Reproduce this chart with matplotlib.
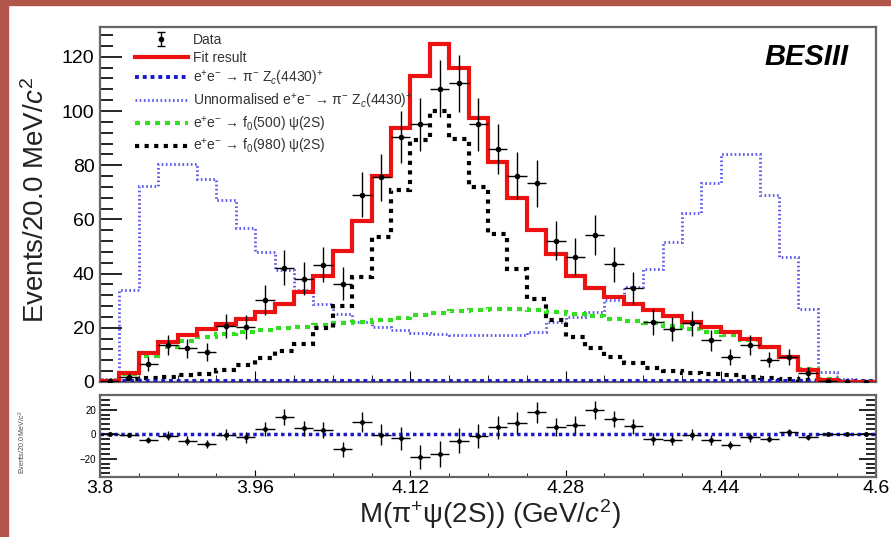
import numpy as np
import matplotlib
matplotlib.use("Agg")
import matplotlib.pyplot as plt
from matplotlib.patches import Rectangle
from matplotlib.ticker import MultipleLocator, FixedLocator, FormatStrFormatter

plt.rcParams['font.family'] = ['Liberation Sans', 'DejaVu Sans']
plt.rcParams['mathtext.fontset'] = 'custom'
plt.rcParams['mathtext.rm'] = 'Liberation Sans'
plt.rcParams['mathtext.it'] = 'Liberation Sans:italic'
plt.rcParams['mathtext.bf'] = 'Liberation Sans:bold'

# 40 bins of 20 MeV between 3.8 and 4.6 GeV
x_min, x_max, n_bins = 3.8, 4.6, 40
x_ticks = [3.8, 3.96, 4.12, 4.28, 4.44, 4.6]

data = [0.2, 2.0, 6.5, 13.6, 12.4, 11.1, 20.7, 20.3, 30.4, 42.2,
        38.1, 43.3, 36.3, 69.1, 75.5, 90.4, 95.1, 108.3, 110.2, 95.1,
        86.1, 76.1, 73.3, 52.2, 46.3, 54.4, 43.4, 34.8, 22.2, 19.4,
        21.6, 15.4, 9.3, 13.6, 8.3, 9.3, 3.5, 0.5, 0.0, 0.0]

fit = [0.3, 3.3, 10.8, 14.8, 17.3, 19.5, 21.3, 23.4, 25.9, 28.9,
       33.2, 39.3, 48.5, 59.5, 76.1, 93.9, 113.0, 124.9, 115.9, 97.5,
       81.0, 68.0, 56.1, 47.1, 39.3, 34.8, 31.4, 28.7, 26.5, 24.3,
       22.2, 20.3, 18.3, 15.8, 13.0, 9.3, 4.4, 0.6, 0.1, 0.0]

zc_norm = [0.3, 0.3, 0.3, 0.3, 0.3, 0.3, 0.3, 0.3, 0.3, 0.3,
           0.3, 0.3, 0.3, 0.3, 0.3, 0.3, 0.3, 0.3, 0.3, 0.3,
           0.3, 0.3, 0.3, 0.3, 0.3, 0.3, 0.3, 0.3, 0.3, 0.3,
           0.3, 0.3, 0.3, 0.3, 0.3, 0.3, 0.3, 0.3, 0.3, 0.3]

zc_unnorm = [1.0, 33.8, 72.4, 80.5, 80.5, 75.0, 67.0, 57.0, 47.9, 41.2,
             33.8, 28.9, 25.2, 22.2, 20.3, 19.1, 18.1, 17.6, 17.3, 17.3,
             17.3, 17.5, 18.5, 22.0, 24.0, 25.9, 30.1, 35.0, 41.8, 51.6,
             62.3, 73.6, 84.0, 84.0, 69.0, 46.0, 27.0, 3.8, 1.0, 0.5]

f0_500 = [0.5, 3.0, 9.5, 13.0, 15.0, 16.5, 17.6, 18.4, 19.1, 19.8,
          20.4, 21.0, 21.6, 22.3, 23.0, 23.8, 24.6, 25.4, 26.1, 26.6,
          26.9, 26.8, 26.4, 25.8, 25.0, 24.2, 23.4, 22.6, 21.7, 20.7,
          19.7, 18.6, 17.3, 15.4, 12.8, 9.3, 4.8, 1.0, 0.1, 0.0]

f0_980 = [0.3, 1.2, 1.6, 2.0, 2.5, 3.1, 4.3, 6.2, 9.0, 11.5,
          14.2, 20.0, 28.0, 38.7, 53.4, 70.8, 89.2, 100.0, 89.6, 71.8,
          54.7, 41.8, 30.8, 22.8, 16.7, 12.4, 9.3, 6.9, 5.3, 4.2,
          3.4, 2.9, 2.4, 1.9, 1.5, 1.0, 0.7, 0.3, 0.1, 0.0]

resid = [0.0, -1.0, -4.6, -1.4, -5.2, -7.9, -0.5, -2.5, 4.4, 13.7,
         4.9, 3.6, -12.3, 9.9, -0.5, -3.3, -18.4, -16.2, -5.2, -1.4,
         5.5, 9.0, 17.8, 5.8, 7.7, 20.0, 12.6, 6.3, -3.8, -4.7,
         -0.5, -4.7, -8.8, -2.7, -3.8, 1.4, -2.7, 0.0, 0.0, 0.0]

edges = np.linspace(x_min, x_max, n_bins + 1)
centers = 0.5 * (edges[:-1] + edges[1:])
half_w = 0.5 * (edges[1] - edges[0])
data_err = np.sqrt(np.array(data))

W, H = 891, 537
fig = plt.figure(figsize=(W / 100, H / 100), dpi=100)
fig.patch.set_facecolor('white')

# brown frame of the screenshot
fig.patches.append(Rectangle((0, 0), 8 / W, 1, transform=fig.transFigure,
                             color='#b0574a', zorder=0))
fig.patches.append(Rectangle((0, 1 - 5 / H), 1, 5 / H, transform=fig.transFigure,
                             color='#b0574a', zorder=0))


def px_axes(left, top, right, bottom):
    return fig.add_axes([left / W, 1 - bottom / H, (right - left) / W, (bottom - top) / H])


ax = px_axes(100, 27, 876, 382)
ax2 = px_axes(100, 395, 876, 477)

blue_dark = '#1a1acc'
blue_light = '#5a5ae8'

ax.stairs(zc_unnorm, edges, color=blue_light, lw=2.0, linestyle=(0, (0.6, 0.9)), zorder=2)
ax.stairs(f0_500, edges, color='#33dd22', lw=3.0, linestyle=(0, (1.2, 1.2)), zorder=3)
ax.stairs(f0_980, edges, color='black', lw=3.0, linestyle=(0, (1.0, 1.3)), zorder=3)
ax.stairs(zc_norm, edges, color=blue_dark, lw=2.8, linestyle=(0, (1.0, 1.0)), zorder=4)
ax.stairs(fit, edges, color='#ee1111', lw=3.0, zorder=5)
ax.errorbar(centers, data, xerr=half_w, yerr=data_err, fmt='o', ms=3, color='black',
            elinewidth=1.0, capsize=0, zorder=6)

ax.set_xlim(x_min, x_max)
ax.set_ylim(0, 131)

handles = [
    ax.errorbar([np.nan], [np.nan], yerr=[1], fmt='o', ms=3, color='black', capsize=3, elinewidth=1),
    plt.Line2D([], [], color='#ee1111', lw=3),
    plt.Line2D([], [], color=blue_dark, lw=2.8, linestyle=(0, (1.0, 1.0))),
    plt.Line2D([], [], color=blue_light, lw=2.0, linestyle=(0, (0.6, 0.9))),
    plt.Line2D([], [], color='#33dd22', lw=3, linestyle=(0, (1.2, 1.2))),
    plt.Line2D([], [], color='black', lw=3, linestyle=(0, (1.0, 1.3))),
]
labels = [
    'Data',
    'Fit result',
    r'e$^{+}$e$^{-}$ → π$^{-}$ Z$_{c}$(4430)$^{+}$',
    r'Unnormalised e$^{+}$e$^{-}$ → π$^{-}$ Z$_{c}$(4430)$^{+}$',
    r'e$^{+}$e$^{-}$ → f$_{0}$(500) ψ(2S)',
    r'e$^{+}$e$^{-}$ → f$_{0}$(980) ψ(2S)',
]
leg = ax.legend(handles, labels, loc='upper left', bbox_to_anchor=(128 / W, 1 - 26 / H),
                bbox_transform=fig.transFigure, frameon=False, fontsize=10,
                handlelength=3.8, handletextpad=0.4, labelspacing=0.28, borderpad=0)
for t in leg.get_texts():
    t.set_color('#333333')

ax.text(0.965, 0.955, 'BESIII', transform=ax.transAxes, ha='right', va='top',
        fontsize=21, fontweight='bold', fontstyle='italic')

# residual pad
ax2.axhline(0, color=blue_dark, lw=2.5, linestyle=(0, (1.0, 1.0)), zorder=2)
ax2.errorbar(centers, resid, xerr=half_w, yerr=data_err, fmt='o', ms=2.5, color='black',
             elinewidth=1.0, capsize=0, zorder=3)
ax2.set_xlim(x_min, x_max)
ax2.set_ylim(-35, 32)

for a in (ax, ax2):
    for s in a.spines.values():
        s.set_color('#666666')
        s.set_linewidth(1.6)
    a.xaxis.set_major_locator(FixedLocator(x_ticks))
    a.xaxis.set_minor_locator(MultipleLocator(0.04))
    a.xaxis.set_major_formatter(FormatStrFormatter('%g'))

ax.yaxis.set_major_locator(MultipleLocator(20))
ax.yaxis.set_minor_locator(MultipleLocator(4))
ax.tick_params(axis='y', which='major', direction='in', length=16, width=1.2, labelsize=14, pad=4)
ax.tick_params(axis='y', which='minor', direction='in', length=9, width=1.2)
ax.tick_params(axis='x', which='both', direction='in', length=5, labelbottom=False)
ax.tick_params(axis='x', which='major', length=8)

ax2.yaxis.set_major_locator(MultipleLocator(20))
ax2.yaxis.set_minor_locator(MultipleLocator(4))
ax2.tick_params(axis='y', which='major', direction='in', length=12, width=1.2, labelsize=7,
                right=True, pad=3)
ax2.tick_params(axis='y', which='minor', direction='in', length=7, width=1.2, right=True)
ax2.tick_params(axis='x', which='major', direction='in', length=5, labelsize=14, pad=2)
ax2.tick_params(axis='x', which='minor', direction='in', length=3)

fig.text(36 / W, 1 - 200 / H, r'Events/20.0 MeV/$c^{2}$', rotation=90, ha='center',
         va='center', fontsize=20, color='#222222')
fig.text(22 / W, 1 - 442 / H, r'Events/20.0 MeV/$c^{2}$', rotation=90, ha='center',
         va='center', fontsize=5, color='#444444')
fig.text(490 / W, 1 - 514 / H, r'M(π$^{+}$ψ(2S)) (GeV/$c^{2}$)', ha='center',
         va='center', fontsize=20, color='#222222')

fig.savefig('out.png', dpi=100)
